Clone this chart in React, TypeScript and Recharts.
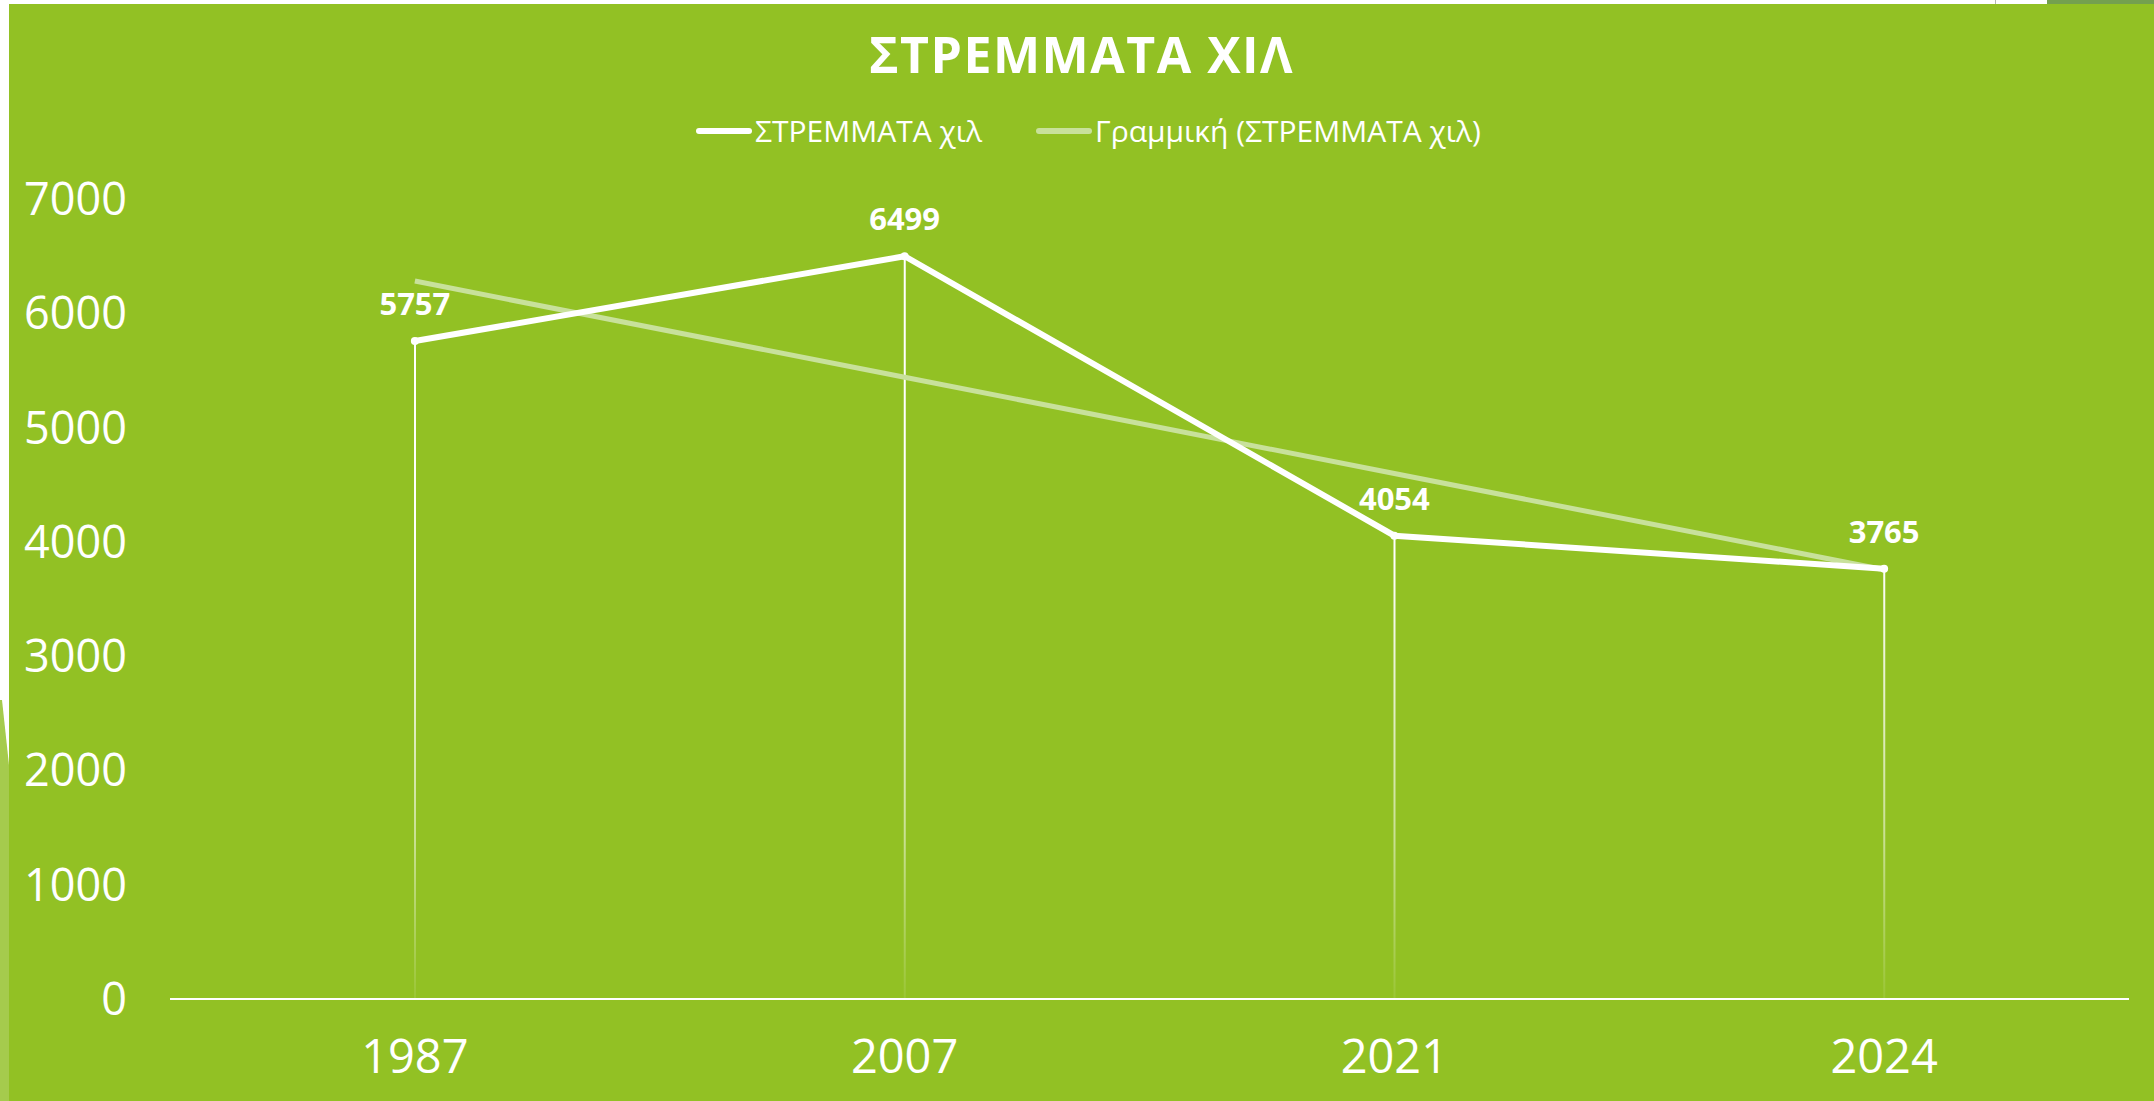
import { ComposedChart, Bar, Line, XAxis, YAxis, LabelList } from 'recharts';

const YEARS = ['1987', '2007', '2021', '2024'];
const STREMMATA = [5757, 6499, 4054, 3765];
// linear trendline as it is drawn in the picture
const TREND = [6282, 5440, 4598, 3756];
const Y_TICKS = [0, 1000, 2000, 3000, 4000, 5000, 6000, 7000];

const TITLE = 'ΣΤΡΕΜΜΑΤΑ ΧΙΛ';
const SERIES_NAME = 'ΣΤΡΕΜΜΑΤΑ χιλ';
const TREND_NAME = 'Γραμμική (ΣΤΡΕΜΜΑΤΑ χιλ)';

const GREEN = '#92c124';
const TREND_COLOR = '#c8e19b';
const FONT = '"Open Sans", "DejaVu Sans", sans-serif';

const chartData = YEARS.map((year, i) => ({
  year,
  value: STREMMATA[i],
  trend: TREND[i],
}));

function LegendItem({ color, label }: { color: string; label: string }) {
  return (
    <div style={{ display: 'flex', alignItems: 'center' }}>
      <div style={{ width: 56, height: 6, borderRadius: 3, background: color, marginRight: 3 }} />
      <span>{label}</span>
    </div>
  );
}

export default function App() {
  return (
    <div
      style={{
        position: 'relative',
        width: 2154,
        height: 1101,
        background: '#fff',
        overflow: 'hidden',
        fontFamily: FONT,
      }}
    >
      <style>{'body { margin: 0; }'}</style>

      {/* slide leftovers around the chart */}
      <svg width={9} height={1101} style={{ position: 'absolute', left: 0, top: 0 }}>
        <polygon points="0,700 2,700 9,765 9,1101 0,1101" fill="#a5cb4d" />
      </svg>
      <div style={{ position: 'absolute', left: 1995, top: 0, width: 1, height: 4, background: '#b5b5b5' }} />
      <div style={{ position: 'absolute', left: 2047, top: 0, width: 107, height: 4, background: '#74a04f' }} />

      <svg width={0} height={0} style={{ position: 'absolute' }}>
        <defs>
          <linearGradient id="dropFade" gradientUnits="userSpaceOnUse" x1={0} y1={195} x2={0} y2={995}>
            <stop offset="0" stopColor="#fff" stopOpacity={1} />
            <stop offset="0.45" stopColor="#fff" stopOpacity={1} />
            <stop offset="0.8" stopColor="#fff" stopOpacity={0.5} />
            <stop offset="1" stopColor="#fff" stopOpacity={0.08} />
          </linearGradient>
        </defs>
      </svg>

      <div
        style={{
          position: 'absolute',
          left: 9,
          top: 4,
          width: 2145,
          height: 1097,
          background: GREEN,
        }}
      >
        <div
          style={{
            position: 'absolute',
            left: 0,
            right: 0,
            top: 25,
            textAlign: 'center',
            fontSize: 50,
            lineHeight: 1,
            fontWeight: 700,
            letterSpacing: 1.5,
            color: '#fff',
          }}
        >
          {TITLE}
        </div>

        <div
          style={{
            position: 'absolute',
            left: 687,
            top: 112,
            display: 'flex',
            gap: 54,
            fontSize: 30,
            lineHeight: 1,
            color: '#fff',
          }}
        >
          <LegendItem color="#fff" label={SERIES_NAME} />
          <LegendItem color={TREND_COLOR} label={TREND_NAME} />
        </div>

        <ComposedChart
          width={2145}
          height={1097}
          data={chartData}
          margin={{ top: 195, right: 25, bottom: 0, left: 0 }}
        >
          <XAxis
            dataKey="year"
            height={102}
            axisLine={{ stroke: '#fff', strokeWidth: 2 }}
            tickLine={false}
            tickSize={8}
            tickMargin={33}
            tick={{ fill: '#fff', fontSize: 47, fontFamily: FONT }}
          />
          <YAxis
            domain={[0, 7000]}
            ticks={Y_TICKS}
            width={161}
            axisLine={false}
            tickLine={false}
            tickSize={8}
            tickMargin={35}
            tick={{ fill: '#fff', fontSize: 45, fontFamily: FONT }}
          />
          <Bar dataKey="value" barSize={2} fill="url(#dropFade)" isAnimationActive={false} />
          <Line
            type="linear"
            dataKey="trend"
            stroke={TREND_COLOR}
            strokeWidth={5}
            dot={false}
            activeDot={false}
            isAnimationActive={false}
          />
          <Line
            type="linear"
            dataKey="value"
            stroke="#fff"
            strokeWidth={6}
            dot={{ r: 4, fill: '#fff', stroke: 'none' }}
            activeDot={false}
            isAnimationActive={false}
          >
            <LabelList
              dataKey="value"
              position="top"
              offset={26}
              fill="#fff"
              fontSize={31}
              fontWeight={700}
              fontFamily={FONT}
            />
          </Line>
        </ComposedChart>
      </div>
    </div>
  );
}
